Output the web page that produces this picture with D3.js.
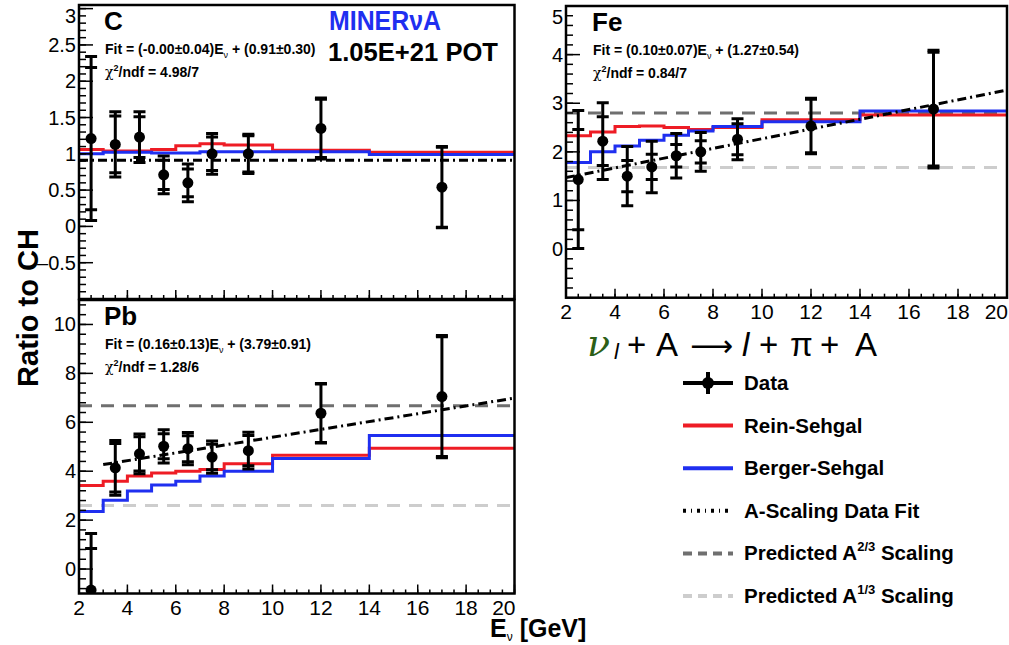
<!DOCTYPE html>
<html>
  <head>
    <meta http-equiv="Content-type" content="text/html; charset=utf-8">
    <title>MINERvA coherent pion A-scaling</title>
    <script src="https://d3js.org/d3.v7.min.js"></script>
    <style>
      body { margin: 0; background: #fff; }
      text { font-family: "Liberation Sans", Arial, sans-serif; }
    </style>
  </head>
  <body>
    <div id="chart"></div>
    <script type="text/javascript">
      // bins in neutrino energy (GeV)
      var binEdges = [2, 3, 4, 5, 6, 7, 8, 10, 14, 20];
      var binCenters = [2.5, 3.5, 4.5, 5.5, 6.5, 7.5, 9, 12, 17];
      var xTicks = [2, 4, 6, 8, 10, 12, 14, 16, 18, 20];

      // Carbon
      var cData = [1.21, 1.13, 1.23, 0.71, 0.60, 1.00, 1.00, 1.35, 0.54];
      var cStat = [0.98, 0.39, 0.28, 0.20, 0.19, 0.23, 0.25, 0.40, 0.55];
      var cTotal = [1.13, 0.45, 0.35, 0.26, 0.26, 0.28, 0.27, 0.42, 0.56];
      var cRein = [1.06, 1.04, 1.04, 1.06, 1.11, 1.14, 1.12, 1.05, 1.02];
      var cBerger = [1.00, 1.02, 1.02, 1.01, 1.01, 1.03, 1.03, 1.03, 0.99];
      var cFit = { slope: -0.00, intercept: 0.91, from: 2, to: 20 };

      // Iron
      var feData = [1.43, 2.22, 1.50, 1.69, 1.92, 2.00, 2.26, 2.53, 2.88];
      var feStat = [1.03, 0.50, 0.32, 0.26, 0.23, 0.23, 0.32, 0.55, 1.17];
      var feTotal = [1.42, 0.79, 0.61, 0.53, 0.46, 0.40, 0.42, 0.57, 1.21];
      var feRein = [2.33, 2.41, 2.52, 2.53, 2.50, 2.46, 2.50, 2.66, 2.76];
      var feBerger = [1.78, 2.00, 2.12, 2.24, 2.34, 2.43, 2.52, 2.62, 2.84];
      var feFit = { slope: 0.10, intercept: 1.27, from: 2, to: 20 };
      var feA23 = 2.80, feA13 = 1.68;

      // Lead
      var pbData = [-0.86, 4.14, 4.71, 5.02, 4.92, 4.58, 4.84, 6.37, 7.05];
      var pbStat = [1.70, 0.99, 0.70, 0.51, 0.53, 0.52, 0.62, 1.20, 2.45];
      var pbTotal = [2.31, 1.12, 0.81, 0.68, 0.66, 0.66, 0.75, 1.22, 2.50];
      var pbRein = [3.42, 3.59, 3.80, 3.93, 4.00, 4.07, 4.30, 4.65, 4.94];
      var pbBerger = [2.35, 2.81, 3.19, 3.44, 3.59, 3.80, 4.00, 4.52, 5.46];
      var pbFit = { slope: 0.16, intercept: 3.79, from: 3, to: 20 };
      var pbA23 = 6.68, pbA13 = 2.60;

      var colRein = "#ee1c25", colBerger = "#1f2ff0";
      var colA23 = "#6f6f6f", colA13 = "#cdcdcd";

      var width = 1009, height = 645;
      var svg = d3.select("#chart").append("svg")
        .attr("width", width)
        .attr("height", height);

      var panels = [
        { id: "c", name: "C", x0: 79, x1: 514.5, y0: 5, y1: 299, yDom: [-1, 3.05],
          major: [-0.5, 0, 0.5, 1, 1.5, 2, 2.5, 3], minorStep: 0.1, xLabels: false,
          data: cData, stat: cStat, total: cTotal, rein: cRein, berger: cBerger, fit: cFit,
          fitText: ["(-0.00\u00b10.04)", "(0.91\u00b10.30)"], chi: "4.98/7" },
        { id: "pb", name: "Pb", x0: 79, x1: 514.5, y0: 300, y1: 593.5, yDom: [-1, 11],
          major: [0, 2, 4, 6, 8, 10], minorStep: 0.4, xLabels: true,
          data: pbData, stat: pbStat, total: pbTotal, rein: pbRein, berger: pbBerger, fit: pbFit,
          a23: pbA23, a13: pbA13,
          fitText: ["(0.16\u00b10.13)", "(3.79\u00b10.91)"], chi: "1.28/6" },
        { id: "fe", name: "Fe", x0: 566, x1: 1007, y0: 6, y1: 297.7, yDom: [-1, 5],
          major: [0, 1, 2, 3, 4, 5], minorStep: 0.2, xLabels: true,
          data: feData, stat: feStat, total: feTotal, rein: feRein, berger: feBerger, fit: feFit,
          a23: feA23, a13: feA13,
          fitText: ["(0.10\u00b10.07)", "(1.27\u00b10.54)"], chi: "0.84/7" }
      ];

      panels.forEach(function(p) {
        var x = d3.scaleLinear().domain([2, 20]).range([p.x0, p.x1]);
        var y = d3.scaleLinear().domain(p.yDom).range([p.y1, p.y0]);
        var g = svg.append("g");

        svg.append("clipPath").attr("id", "clip-" + p.id)
          .append("rect")
          .attr("x", p.x0).attr("y", p.y0)
          .attr("width", p.x1 - p.x0).attr("height", p.y1 - p.y0);

        var plot = g.append("g").attr("clip-path", "url(#clip-" + p.id + ")");

        // predicted scaling lines
        [[p.a23, colA23], [p.a13, colA13]].forEach(function(s) {
          if (s[0] === undefined) return;
          plot.append("line")
            .attr("x1", x(2)).attr("x2", x(20))
            .attr("y1", y(s[0])).attr("y2", y(s[0]))
            .style("stroke", s[1])
            .style("stroke-width", 3)
            .style("stroke-dasharray", "13,9");
        });

        // step histograms
        var step = function(vals) {
          var pts = [];
          vals.forEach(function(v, i) {
            pts.push([binEdges[i], v]);
            pts.push([binEdges[i + 1], v]);
          });
          return d3.line().x(function(d) { return x(d[0]); }).y(function(d) { return y(d[1]); })(pts);
        };
        plot.append("path").attr("d", step(p.rein))
          .style("fill", "none").style("stroke", colRein).style("stroke-width", 3);
        plot.append("path").attr("d", step(p.berger))
          .style("fill", "none").style("stroke", colBerger).style("stroke-width", 3);

        // fit line
        var f = p.fit;
        plot.append("path")
          .attr("d", d3.line()([[x(f.from), y(f.slope * f.from + f.intercept)],
                                [x(f.to), y(f.slope * f.to + f.intercept)]]))
          .style("stroke", "#000")
          .style("stroke-width", 3)
          .style("stroke-dasharray", "9,4,2,4");

        // data points with stat + total error bars
        var pts = plot.selectAll("g.pt")
          .data(p.data.map(function(v, i) {
            return { x: binCenters[i], y: v, s: p.stat[i], t: p.total[i] };
          }))
          .enter().append("g").attr("class", "pt");

        pts.append("line")
          .attr("x1", function(d) { return x(d.x); })
          .attr("x2", function(d) { return x(d.x); })
          .attr("y1", function(d) { return y(d.y - d.t); })
          .attr("y2", function(d) { return y(d.y + d.t); })
          .style("stroke", "#000").style("stroke-width", 3);

        [["t", 1], ["t", -1], ["s", 1], ["s", -1]].forEach(function(c) {
          pts.append("line")
            .attr("x1", function(d) { return x(d.x) - 6; })
            .attr("x2", function(d) { return x(d.x) + 6; })
            .attr("y1", function(d) { return y(d.y + c[1] * d[c[0]]); })
            .attr("y2", function(d) { return y(d.y + c[1] * d[c[0]]); })
            .style("stroke", "#000").style("stroke-width", 3);
        });

        pts.append("circle")
          .attr("cx", function(d) { return x(d.x); })
          .attr("cy", function(d) { return y(d.y); })
          .attr("r", 5.5)
          .style("fill", "#000");

        // y axis ticks (ROOT style, inside), minor ticks aligned to major grid
        var base = p.major[0];
        var minor = d3.range(Math.ceil((p.yDom[0] - base) / p.minorStep - 1e-6),
                             Math.floor((p.yDom[1] - base) / p.minorStep + 1e-6) + 1)
          .map(function(k) { return base + k * p.minorStep; });
        g.selectAll("line.ymin").data(minor).enter().append("line")
          .attr("x1", p.x0).attr("x2", p.x0 + 7)
          .attr("y1", function(d) { return y(d); }).attr("y2", function(d) { return y(d); })
          .style("stroke", "#000").style("stroke-width", 1.5);
        g.selectAll("line.ymaj").data(p.major).enter().append("line")
          .attr("x1", p.x0).attr("x2", p.x0 + 14)
          .attr("y1", function(d) { return y(d); }).attr("y2", function(d) { return y(d); })
          .style("stroke", "#000").style("stroke-width", 1.5);
        g.selectAll("text.ylab").data(p.major).enter().append("text")
          .attr("x", p.x0 - 3)
          .attr("y", function(d) { return Math.max(y(d) + 7, p.y0 + 18); })
          .attr("text-anchor", "end")
          .style("font-size", "20px")
          .text(function(d) { return d < 0 ? "\u2013" + Math.abs(d) : d; });

        // x axis ticks
        var xMinor = d3.range(2, 20.01, 0.5);
        g.selectAll("line.xmin").data(xMinor).enter().append("line")
          .attr("x1", function(d) { return x(d); }).attr("x2", function(d) { return x(d); })
          .attr("y1", p.y1).attr("y2", p.y1 - 4)
          .style("stroke", "#000").style("stroke-width", 1.5);
        g.selectAll("line.xmaj").data(xTicks).enter().append("line")
          .attr("x1", function(d) { return x(d); }).attr("x2", function(d) { return x(d); })
          .attr("y1", p.y1).attr("y2", p.y1 - 9)
          .style("stroke", "#000").style("stroke-width", 1.5);
        if (p.xLabels) {
          g.selectAll("text.xlab").data(xTicks).enter().append("text")
            .attr("x", function(d) { return d === 20 ? x(d) + 1 : x(d); })
            .attr("y", p.y1 + 21)
            .attr("text-anchor", function(d) { return d === 20 ? "end" : "middle"; })
            .style("font-size", "21px")
            .text(function(d) { return d; });
        }

        // frame
        g.append("rect")
          .attr("x", p.x0).attr("y", p.y0)
          .attr("width", p.x1 - p.x0).attr("height", p.y1 - p.y0)
          .style("fill", "none").style("stroke", "#000").style("stroke-width", 2.5);

        // labels
        var tx = p.id === "fe" ? p.x0 + 26 : p.x0 + 25;
        g.append("text").attr("x", tx).attr("y", p.y0 + 25)
          .style("font-size", "26px").style("font-weight", "bold")
          .text(p.name);
        var ft = g.append("text").attr("x", tx + 1).attr("y", p.y0 + 49)
          .style("font-size", "14px").style("font-weight", "bold");
        ft.append("tspan").text("Fit = " + p.fitText[0] + "E");
        ft.append("tspan").attr("dy", 4).style("font-size", "9px").style("font-weight", "normal").text("\u03bd");
        ft.append("tspan").attr("dy", -4).text(" + " + p.fitText[1]);
        var ct = g.append("text").attr("x", tx + 1).attr("y", p.y0 + 72)
          .style("font-size", "14px").style("font-weight", "bold");
        ct.append("tspan").style("font-weight", "normal").style("font-family", "DejaVu Serif, serif").text("\u03c7");
        ct.append("tspan").attr("dy", -6).style("font-size", "9px").text("2");
        ct.append("tspan").attr("dy", 6).text("/ndf = " + p.chi);
      });

      // experiment labels
      svg.append("text").attr("x", 329).attr("y", 30)
        .attr("textLength", 112).attr("lengthAdjust", "spacingAndGlyphs")
        .style("font-size", "27px").style("font-weight", "bold").style("fill", "#1f2ff0")
        .text("MINER\u03bdA");
      svg.append("text").attr("x", 328).attr("y", 61)
        .attr("textLength", 170).attr("lengthAdjust", "spacingAndGlyphs")
        .style("font-size", "26px").style("font-weight", "bold")
        .text("1.05E+21 POT");

      // axis titles
      svg.append("text")
        .attr("transform", "translate(38,308) rotate(-90)")
        .attr("text-anchor", "middle")
        .style("font-size", "29px").style("font-weight", "bold")
        .text("Ratio to CH");
      var xt = svg.append("text").attr("x", 490).attr("y", 637)
        .style("font-size", "25px").style("font-weight", "bold");
      xt.append("tspan").text("E");
      xt.append("tspan").attr("dy", 4).style("font-size", "12px").style("font-weight", "normal").text("\u03bd");
      xt.append("tspan").attr("dy", -4).text(" [GeV]");

      // reaction
      var rx = svg.append("text").attr("y", 356).style("font-size", "33px");
      rx.append("tspan").attr("x", 587).style("font-family", "DejaVu Serif, serif").style("font-style", "italic")
        .style("fill", "#2d5f17").style("font-size", "38px").text("\u03bd");
      rx.append("tspan").attr("x", 614).attr("dy", 3).style("font-style", "italic").style("font-size", "22px").text("l");
      rx.append("tspan").attr("x", 627).attr("dy", -3).text("+");
      rx.append("tspan").attr("x", 656).text("A");
      rx.append("tspan").attr("x", 690).style("font-family", "DejaVu Sans, sans-serif").style("font-size", "30px").text("\u27f6");
      rx.append("tspan").attr("x", 742).style("font-style", "italic").text("l");
      rx.append("tspan").attr("x", 759).text("+");
      rx.append("tspan").attr("x", 790).text("\u03c0");
      rx.append("tspan").attr("x", 820).text("+");
      rx.append("tspan").attr("x", 855).text("A");

      // legend
      var legendLabels = ["Data", "Rein-Sehgal", "Berger-Sehgal", "A-Scaling Data Fit",
                          "Predicted A", "Predicted A"];
      var legendSup = [null, null, null, null, "2/3", "1/3"];
      var lg = svg.append("g");
      var ly = d3.scalePoint().domain(d3.range(6)).range([383, 596]);
      legendLabels.forEach(function(lab, i) {
        var yy = ly(i);
        if (i === 0) {
          lg.append("line").attr("x1", 683).attr("x2", 733).attr("y1", yy).attr("y2", yy)
            .style("stroke", "#000").style("stroke-width", 4);
          lg.append("line").attr("x1", 708).attr("x2", 708).attr("y1", yy - 11).attr("y2", yy + 11)
            .style("stroke", "#000").style("stroke-width", 4);
          lg.append("circle").attr("cx", 708).attr("cy", yy).attr("r", 6).style("fill", "#000");
        } else {
          var st = [null, [colRein, null], [colBerger, null], ["#000", "3,5,1,5"],
                    [colA23, "9,6"], [colA13, "9,6"]][i];
          lg.append("line").attr("x1", 683).attr("x2", 733).attr("y1", yy).attr("y2", yy)
            .style("stroke", st[0]).style("stroke-width", 4)
            .style("stroke-dasharray", st[1]);
        }
        var t = lg.append("text").attr("x", 744).attr("y", yy + 7)
          .style("font-size", "20.5px").style("font-weight", "bold");
        t.append("tspan").text(lab);
        if (legendSup[i]) {
          t.append("tspan").attr("dy", -9).style("font-size", "13px").text(legendSup[i]);
          t.append("tspan").attr("dy", 9).text(" Scaling");
        }
      });
    </script>
  </body>
</html>
